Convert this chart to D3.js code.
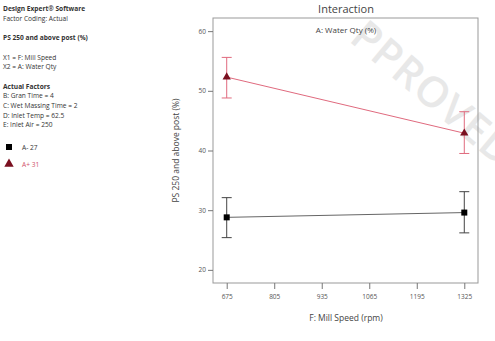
<!DOCTYPE html>
<html><head><meta charset="utf-8">
<script src="https://cdn.jsdelivr.net/npm/d3@7/dist/d3.min.js"></script>
<style>body{margin:0;background:#fff;font-family:"Open Sans","Noto Sans",sans-serif;}</style>
</head><body><svg id="c" width="495" height="341"></svg>
<script>
const xTicks = [675, 805, 935, 1065, 1195, 1325];
const yTicks = [20, 30, 40, 50, 60];
const millSpeed = [675, 1325];
const seriesNames = ["A- 27", "A+ 31"];
const lowMean = [28.8, 29.6];
const lowUpper = [32.1, 33.1];
const lowLower = [25.4, 26.2];
const highMean = [52.3, 42.9];
const highUpper = [55.6, 46.5];
const highLower = [48.8, 39.5];
const infoLines = [
  {t:"Design Expert\u00ae Software", b:true},
  {t:"Factor Coding: Actual", b:false},
  {t:"", b:false},
  {t:"PS 250 and above post (%)", b:true},
  {t:"", b:false},
  {t:"X1 = F: Mill Speed", b:false},
  {t:"X2 = A: Water Qty", b:false},
  {t:"", b:false},
  {t:"Actual Factors", b:true},
  {t:"B: Gran Time = 4", b:false},
  {t:"C: Wet Massing Time = 2", b:false},
  {t:"D: Inlet Temp = 62.5", b:false},
  {t:"E: Inlet Air = 250", b:false}
];

const svg = d3.select("#c");
const L = 213, R = 478, T = 18, B = 283;
const x = d3.scaleLinear().domain([637.5, 1362.5]).range([L, R]);
const y = d3.scaleLinear().domain([17.8, 62.2]).range([B, T]);

// watermark (first letter hidden, as in the reference)
svg.append("clipPath").attr("id","wm").append("rect").attr("x",29).attr("y",-60).attr("width",400).attr("height",120);
svg.append("text").attr("clip-path","url(#wm)")
  .attr("transform","translate(326,22) rotate(40)")
  .attr("font-size",42).attr("font-weight",600).attr("fill","#e8e8e8")
  .attr("letter-spacing",1)
  .text("APPROVED");

// info panel
const info = svg.append("g").attr("font-size",6.6).attr("fill","#333");
infoLines.forEach((d,i)=>{
  info.append("text").attr("x",3).attr("y",11+i*9.7)
    .attr("font-weight",d.b?"bold":"normal").text(d.t);
});
// legend
svg.append("rect").attr("x",6).attr("y",144).attr("width",6).attr("height",6).attr("fill","#000");
svg.append("text").attr("x",22).attr("y",150).attr("font-size",6.6).attr("fill","#333").text(seriesNames[0]);
svg.append("path").attr("d",d3.symbol().type(d3.symbolTriangle).size(38)()).attr("transform","translate(9,164)").attr("fill","#7a1020");
svg.append("text").attr("x",22).attr("y",167).attr("font-size",6.6).attr("fill","#d0506a").text(seriesNames[1]);

// plot box
svg.append("rect").attr("x",L).attr("y",T).attr("width",R-L).attr("height",B-T)
  .attr("fill","none").attr("stroke","#999").attr("stroke-width",1);

// y axis
const ya = svg.append("g").attr("transform",`translate(${L},0)`)
  .call(d3.axisLeft(y).tickValues(yTicks).tickSize(5).tickPadding(2).tickFormat(d3.format("d")));
ya.select(".domain").remove();
ya.selectAll("line").attr("stroke","#777");
ya.selectAll("text").attr("font-size",6.5).attr("fill","#555").attr("font-family","Open Sans");

// x axis
const xa = svg.append("g").attr("transform",`translate(0,${B})`)
  .call(d3.axisBottom(x).tickValues(xTicks).tickSize(6).tickPadding(5).tickFormat(d3.format("d")));
xa.select(".domain").remove();
xa.selectAll("line").attr("stroke","#777");
xa.selectAll("text").attr("font-size",6.5).attr("fill","#555").attr("font-family","Open Sans");

// titles
svg.append("text").attr("x",346).attr("y",13).attr("text-anchor","middle").attr("font-size",11).attr("fill","#444").text("Interaction");
svg.append("text").attr("x",346).attr("y",33).attr("text-anchor","middle").attr("font-size",8).attr("fill","#444").text("A: Water Qty (%)");
svg.append("text").attr("x",346).attr("y",321).attr("text-anchor","middle").attr("font-size",8.5).attr("fill","#444").text("F: Mill Speed (rpm)");
svg.append("text").attr("transform",`translate(179,${(T+B)/2}) rotate(-90)`).attr("text-anchor","middle").attr("font-size",8.5).attr("fill","#444").text("PS  250 and above post (%)");

function drawSeries(mean, up, lo, lineCol, barCol, markerFn){
  const g = svg.append("g");
  const line = d3.line().x((d,i)=>x(millSpeed[i])).y(d=>y(d));
  g.append("path").attr("d",line(mean)).attr("fill","none").attr("stroke",lineCol).attr("stroke-width",1);
  millSpeed.forEach((s,i)=>{
    const cx = x(s);
    g.append("line").attr("x1",cx).attr("x2",cx).attr("y1",y(up[i])).attr("y2",y(lo[i])).attr("stroke",barCol).attr("stroke-width",1);
    [up[i],lo[i]].forEach(v=>g.append("line").attr("x1",cx-5).attr("x2",cx+5).attr("y1",y(v)).attr("y2",y(v)).attr("stroke",barCol).attr("stroke-width",1));
    markerFn(g, cx, y(mean[i]));
  });
}
drawSeries(lowMean, lowUpper, lowLower, "#666", "#444", (g,cx,cy)=>{
  g.append("rect").attr("x",cx-3).attr("y",cy-3).attr("width",6).attr("height",6).attr("fill","#000");
});
drawSeries(highMean, highUpper, highLower, "#e06a7e", "#e06a7e", (g,cx,cy)=>{
  g.append("path").attr("d",d3.symbol().type(d3.symbolTriangle).size(30)()).attr("transform",`translate(${cx},${cy})`).attr("fill","#7a1020");
});
</script></body></html>
